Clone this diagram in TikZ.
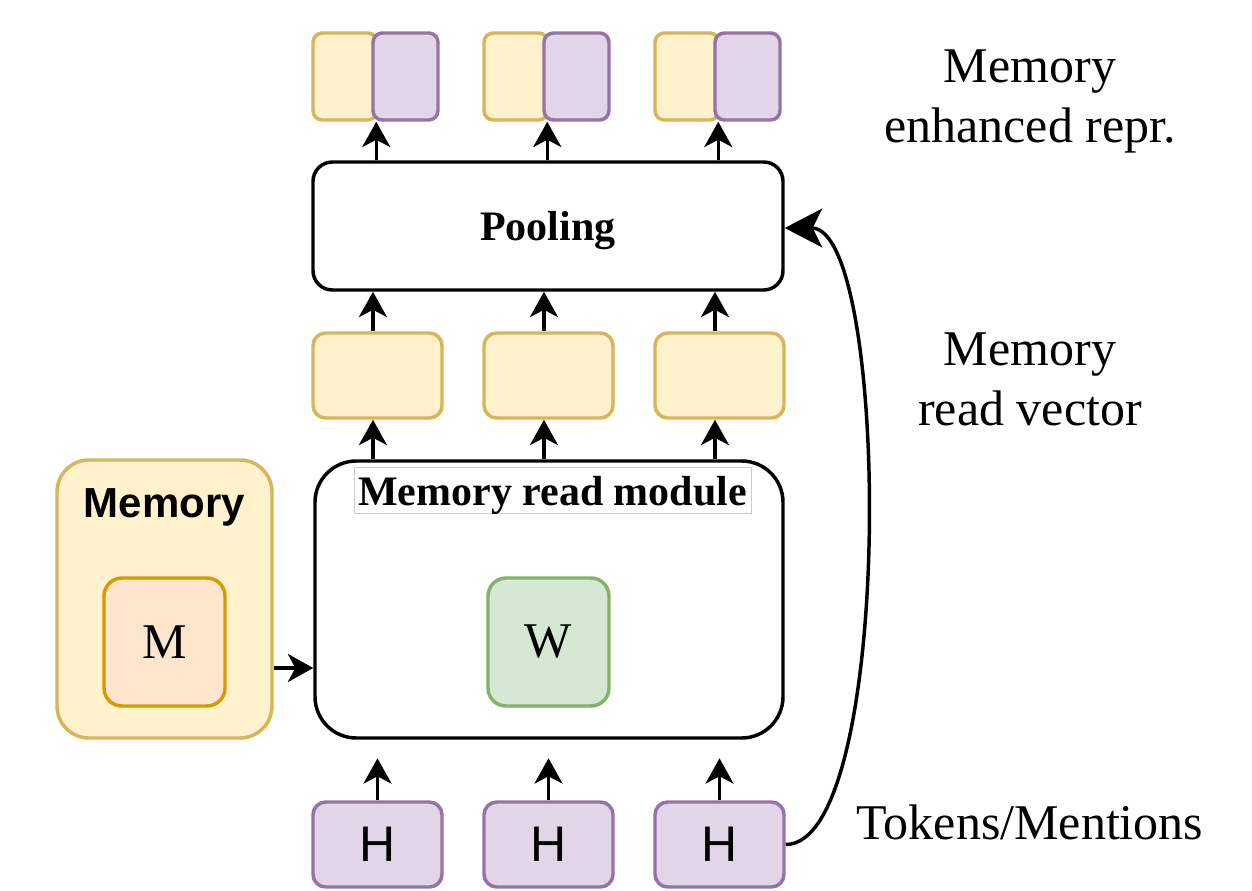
\documentclass[tikz,border=0pt]{standalone}
\usepackage{fontspec}
\setmainfont{Liberation Serif}
\setsansfont{Liberation Sans}
\usetikzlibrary{arrows.meta,calc}
\definecolor{gelbf}{HTML}{FFF2CC}
\definecolor{gelbr}{HTML}{D6B656}
\definecolor{lilaf}{HTML}{E1D5E7}
\definecolor{lilar}{HTML}{9673A6}
\definecolor{gruenf}{HTML}{D5E8D4}
\definecolor{gruenr}{HTML}{82B366}
\definecolor{orngf}{HTML}{FFE6CC}
\definecolor{orngr}{HTML}{D79B00}
\newcommand{\fgross}{\fontsize{37.5}{45}\selectfont}
\newcommand{\fmittel}{\fontsize{31.5}{38}\selectfont}
\tikzset{
  kasten/.style={rectangle,draw=black,line width=2.6pt,inner sep=0pt},
  gelb/.style={kasten,fill=gelbf,draw=gelbr},
  lila/.style={kasten,fill=lilaf,draw=lilar},
  zelle/.style={minimum width=96.75pt,minimum height=63.75pt,rounded corners=9.5pt},
  halb/.style={minimum height=65.25pt,rounded corners=7pt},
  quad/.style={minimum width=90.75pt,minimum height=96pt,rounded corners=13.5pt,font=\fgross},
  pfeil/.style={-{Stealth[length=19pt,width=21pt,inset=5.5pt]},line width=2.6pt},
  pfeilg/.style={-{Stealth[length=28pt,width=29pt,inset=7pt]},line width=2.6pt},
  txt/.style={font=\fgross,align=center},
}

\begin{document}
\begin{tikzpicture}[x=0.75pt,y=-0.75pt]
  \useasboundingbox (0,0) rectangle (1252,891);
  % Pooling und Ausgabe
  \node[kasten,fill=white,minimum width=352.5pt,minimum height=96pt,rounded corners=14.5pt,font=\fmittel\bfseries,text depth=0pt] (pool) at (548,226) {Pooling};
  \foreach \i/\x in {1/345,2/516,3/687} {
    \node[gelb,halb,minimum width=48pt] (g\i) at (\x,76.5) {};
    \node[lila,halb,minimum width=48.75pt] (l\i) at (\x+60.5,76.5) {};
    \coordinate (o\i) at ([xshift=3.75pt]l\i.south west);
    \draw[pfeil] (pool.north -| o\i) -- (o\i);
  }
  % Lesemodul
  \node[kasten,fill=white,minimum width=351pt,minimum height=207.75pt,rounded corners=31pt] (mod) at (549,599.5) {};
  \node[draw=black!20,fill=white,line width=0.75pt,inner sep=0pt,minimum width=297.75pt,minimum height=35pt,text depth=0pt,font=\fmittel\bfseries] (modt) at (552.5,490.5) {Memory read module};
  \node[kasten,quad,fill=gruenf,draw=gruenr] (wbox) at (548.5,642) {W};
  % Zellen
  \foreach \i/\x in {1/377.5,2/548.5,3/719.5} {
    \node[gelb,zelle] (m\i) at (\x,375.5) {};
    \node[lila,zelle,font=\fgross\sffamily] (h\i) at (\x,844.5) {H};
    \coordinate (u\i) at ([xshift=-3.4pt]m\i.north);
    \draw[pfeil] (u\i) -- (u\i |- pool.south);
    \draw[pfeil] (mod.north -| u\i) -- (m\i.south -| u\i);
    \draw[pfeil] (h\i.north) -- ([yshift=31.5pt]h\i.north);
  }
  % Speicher
  \node[gelb,minimum width=161.25pt,minimum height=208.5pt,rounded corners=24pt] (mem) at (164.5,599) {};
  \node[font=\fmittel\sffamily\bfseries] (memt) at (164.5,507) {Memory};
  \node[kasten,quad,fill=orngf,draw=orngr] (mbox) at (164.5,642) {M};
  \coordinate (ma) at ([yshift=-51.75pt]mem.east);
  \draw[pfeil] (ma) -- (ma -| mod.west);
  \draw[pfeilg] (h3.east) .. controls +(109,0) and +(106,0) .. ([yshift=-1.5pt]pool.east);
  % Beschriftung
  \node[txt] (t1) at (1030,101.5) {Memory\\enhanced repr.};
  \node[txt] (t2) at (1030,379.5) {Memory\\read vector};
  \node[txt] (t3) at (1030,822) {Tokens/Mentions};
\end{tikzpicture}
\end{document}
